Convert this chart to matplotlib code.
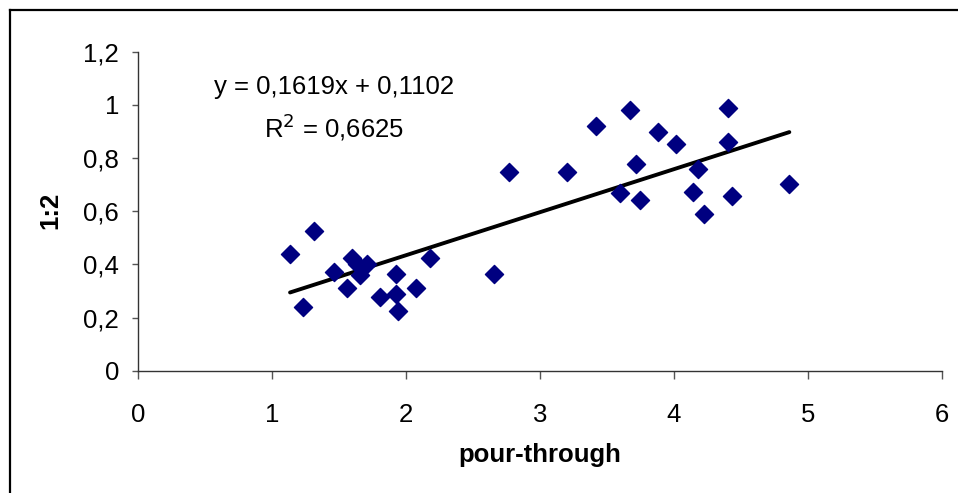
import numpy as np
import matplotlib
matplotlib.use('Agg')
import matplotlib.pyplot as plt
from matplotlib.lines import Line2D
from matplotlib.ticker import FuncFormatter

plt.rcParams['font.family'] = ['Liberation Sans', 'DejaVu Sans']

# data
pour_through = [1.316, 1.137, 1.236, 1.465, 1.597, 1.634, 1.713, 1.659,
                1.564, 1.808, 1.925, 1.925, 1.940, 2.075, 2.179, 2.659,
                2.773, 3.206, 3.418, 3.674, 3.716, 3.599, 3.749, 3.881,
                4.015, 4.179, 4.146, 4.226, 4.403, 4.403, 4.433, 4.863]
ratio_12 = [0.527, 0.438, 0.241, 0.372, 0.425, 0.401, 0.401, 0.360,
            0.310, 0.278, 0.363, 0.287, 0.226, 0.310, 0.423, 0.363,
            0.746, 0.746, 0.921, 0.981, 0.778, 0.670, 0.642, 0.897,
            0.852, 0.759, 0.671, 0.590, 0.987, 0.859, 0.657, 0.701]

# trendline as printed on the chart
slope = 0.1619
intercept = 0.1102
r2 = 0.6625

x_ticks = [0, 1, 2, 3, 4, 5, 6]
y_ticks = [0, 0.2, 0.4, 0.6, 0.8, 1.0, 1.2]

W, H = 958, 493
fs = 18.5
fig = plt.figure(figsize=(W/100, H/100), dpi=100)
ax = fig.add_axes([137.7/W, 1-370.7/H, (941.7-137.7)/W, (370.7-51.7)/H])

x = np.array(pour_through)
y = np.array(ratio_12)

ax.scatter(x, y, marker='D', s=85, color='#000080', edgecolors='#000080', zorder=3, clip_on=False)

xl = np.array([x.min(), x.max()])
ax.plot(xl, slope*xl + intercept, color='black', lw=2.8, solid_capstyle='round', zorder=2)

ax.set_xlim(0, 6)
ax.set_ylim(0, 1.2)
ax.set_xticks(x_ticks)
ax.set_yticks(y_ticks)

def comma(v, pos):
    s = ('%.1f' % v).rstrip('0').rstrip('.')
    return s.replace('.', ',')
ax.xaxis.set_major_formatter(FuncFormatter(comma))
ax.yaxis.set_major_formatter(FuncFormatter(comma))

for side in ['top', 'right']:
    ax.spines[side].set_visible(False)
for side in ['left', 'bottom']:
    ax.spines[side].set_color('#333333')
    ax.spines[side].set_linewidth(1.0)

ax.tick_params(axis='x', direction='out', length=5.5, width=1, color='#555555', pad=18, labelsize=fs)
ax.tick_params(axis='y', direction='out', length=4.5, width=1, color='#555555', pad=9, labelsize=fs)

fig.text(540/W, 1-455/H, 'pour-through', ha='center', va='center', fontsize=fs, fontweight='bold')
fig.text(50/W, 1-210/H, '1:2', ha='center', va='center', rotation=90, fontsize=fs, fontweight='bold')

fig.text(334/W, 1-87/H, 'y = 0,1619x + 0,1102', ha='center', va='center', fontsize=fs)
fig.text(334/W, 1-127/H, 'R$^2$ = ' + ('%.4f' % r2).replace('.', ','), ha='center', va='center', fontsize=fs)

# chart border (only left and top visible in the crop)
fig.add_artist(Line2D([10/W, 10/W], [0, 1-10/H], color='black', lw=1.6, transform=fig.transFigure))
fig.add_artist(Line2D([10/W, 1], [1-10/H, 1-10/H], color='black', lw=1.6, transform=fig.transFigure))

fig.savefig('out.png', dpi=100)
